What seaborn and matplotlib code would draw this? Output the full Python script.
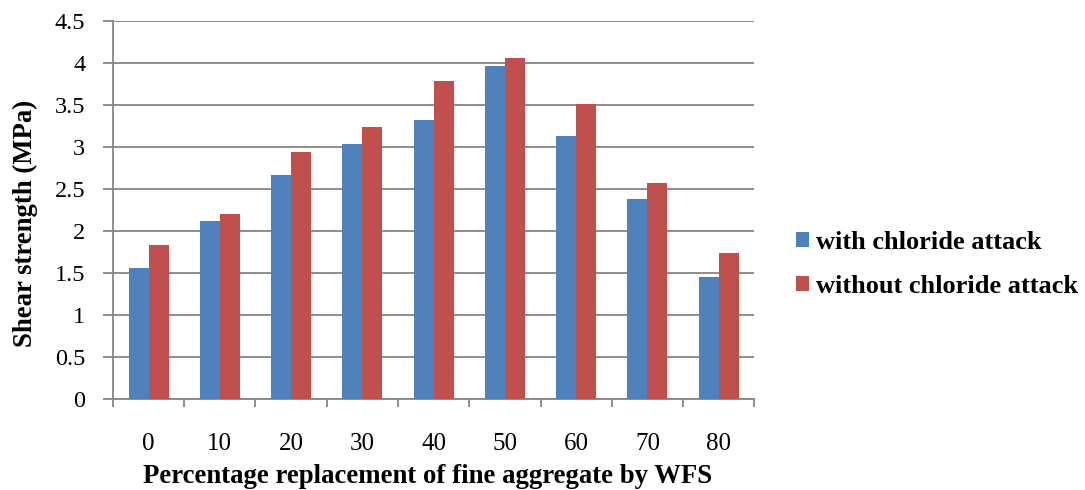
import matplotlib
matplotlib.use("Agg")
import matplotlib.pyplot as plt
import numpy as np
import pandas as pd
import seaborn as sns

# Shear strength of concrete with waste foundry sand (WFS) replacing fine aggregate
replacement = ["0", "10", "20", "30", "40", "50", "60", "70", "80"]
with_chloride = [1.56, 2.12, 2.67, 3.04, 3.33, 3.97, 3.13, 2.39, 1.46]
without_chloride = [1.84, 2.21, 2.95, 3.24, 3.79, 4.06, 3.51, 2.58, 1.74]
series_names = ["with chloride attack", "without chloride attack"]
y_ticks = [0, 0.5, 1, 1.5, 2, 2.5, 3, 3.5, 4, 4.5]
y_tick_labels = ["0", "0.5", "1", "1.5", "2", "2.5", "3", "3.5", "4", "4.5"]

df = pd.DataFrame({
    "replacement": replacement * 2,
    "strength": with_chloride + without_chloride,
    "condition": [series_names[0]] * len(replacement) + [series_names[1]] * len(replacement),
})

sns.set_theme(style="white")
plt.rcParams["font.family"] = ["Liberation Serif", "DejaVu Serif"]
plt.rcParams["text.color"] = "black"

grid_color = "#868686"
palette = {series_names[0]: "#4F81BD", series_names[1]: "#C0504D"}

fig = plt.figure(figsize=(10.85, 4.90), dpi=100)
ax = fig.add_axes([0.1041, 0.1851, 0.5911, 0.7714])

sns.barplot(data=df, x="replacement", y="strength", hue="condition",
            order=replacement, hue_order=series_names, palette=palette,
            width=0.56, gap=0, saturation=1, errorbar=None,
            edgecolor="none", linewidth=0, ax=ax, zorder=3)

ax.set_ylim(0, 4.5)
ax.set_xlim(-0.5, len(replacement) - 0.5)
ax.set_yticks(y_ticks)
ax.set_yticklabels(y_tick_labels)

# horizontal gridlines, Excel style
ax.yaxis.grid(True, color=grid_color, linewidth=1.3, zorder=0)
ax.set_axisbelow(True)

for side in ["top", "right"]:
    ax.spines[side].set_visible(False)
for side in ["left", "bottom"]:
    ax.spines[side].set_color(grid_color)
    ax.spines[side].set_linewidth(1.3)

# category separators as small ticks on the x axis
ax.set_xticks(np.arange(-0.5, len(replacement), 1.0), minor=True)
ax.tick_params(axis="x", which="minor", length=6, width=1.3, color=grid_color, direction="out", bottom=True)
ax.tick_params(axis="x", which="major", length=0, pad=24, labelsize=18, labelcolor="black")
ax.tick_params(axis="y", which="major", length=7, width=1.3, color=grid_color, direction="out",
               left=True, pad=13, labelsize=17.5, labelcolor="black")

ax.set_xlabel("Percentage replacement of fine aggregate by WFS", fontsize=19.3,
              fontweight="bold", color="black")
ax.xaxis.set_label_coords(0.49, -0.172)
ax.xaxis.label.set_va("top")
ax.set_ylabel("Shear strength (MPa)", fontsize=19.3, fontweight="bold", color="black")
ax.yaxis.set_label_coords(-0.117, 0.465)

handles, labels = ax.get_legend_handles_labels()
leg = ax.legend(handles, labels, loc="center left", bbox_to_anchor=(0.7335, 0.4602),
                bbox_transform=fig.transFigure, frameon=False,
                prop={"size": 19, "weight": "bold"},
                handlelength=0.5, handleheight=0.5, handletextpad=0.25,
                labelspacing=0.82, borderaxespad=0, borderpad=0)
for t in leg.get_texts():
    t.set_color("black")

fig.savefig("out.png", dpi=100)
